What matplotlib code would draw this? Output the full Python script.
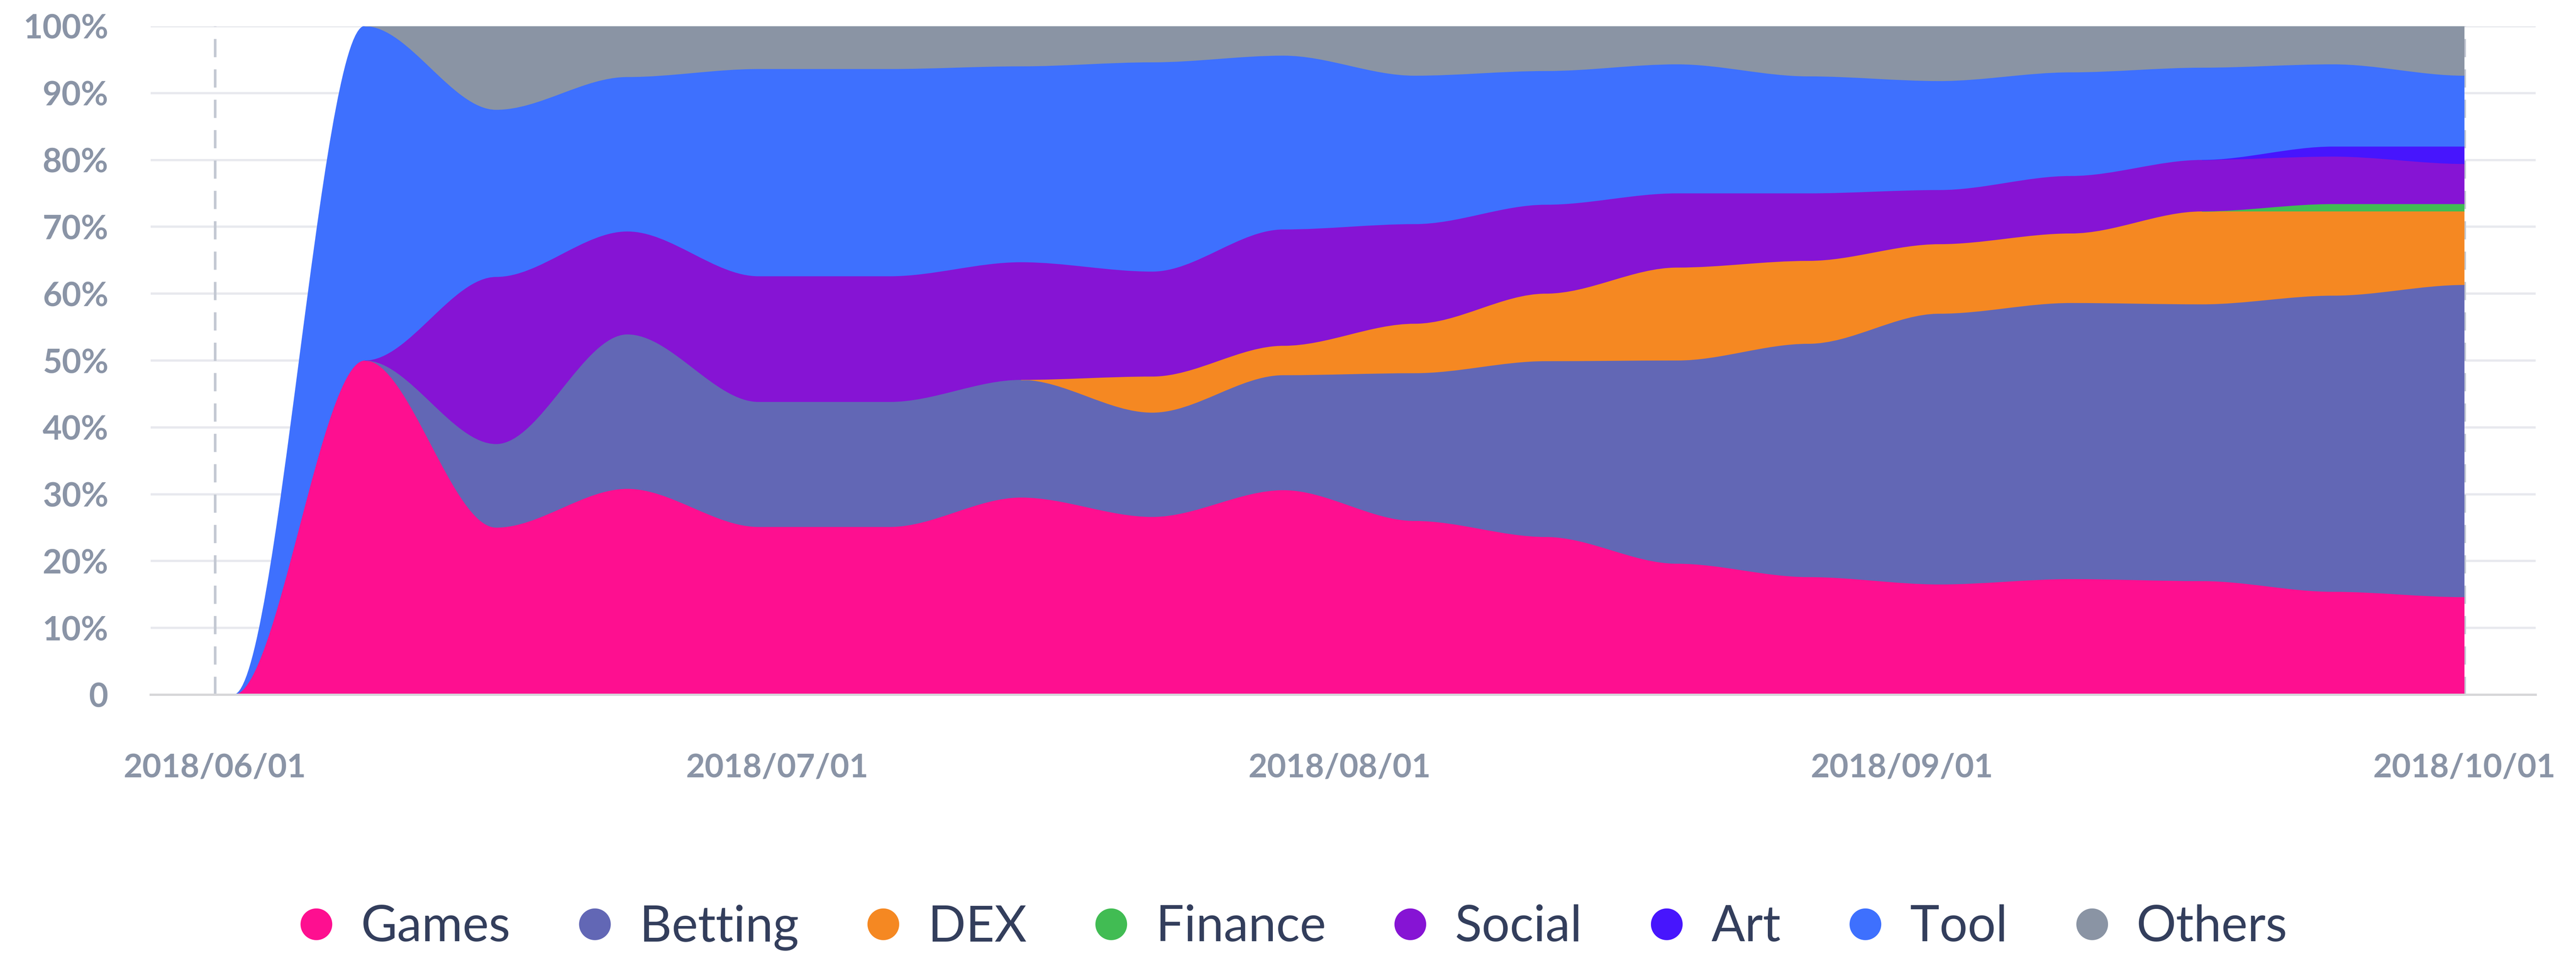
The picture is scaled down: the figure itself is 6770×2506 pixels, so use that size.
import numpy as np
import pandas as pd
import matplotlib
matplotlib.use('Agg')
import matplotlib.pyplot as plt
from matplotlib.path import Path
from matplotlib.patches import PathPatch
from matplotlib.lines import Line2D

# weekly share of each category (%)
dates = ['2018-06-02', '2018-06-09', '2018-06-16', '2018-06-23', '2018-06-30', '2018-07-07',
         '2018-07-14', '2018-07-21', '2018-07-28', '2018-08-04', '2018-08-11', '2018-08-18',
         '2018-08-25', '2018-09-01', '2018-09-08', '2018-09-15', '2018-09-22', '2018-09-29']
games   = [0, 50, 25, 30.8, 25.1, 25.1, 29.5, 26.6, 30.6, 26.0, 23.6, 19.6, 17.6, 16.5, 17.3, 17.0, 15.4, 14.6]
betting = [0, 0, 12.5, 23.1, 18.7, 18.7, 17.6, 15.6, 17.2, 22.1, 26.3, 30.4, 34.9, 40.5, 41.3, 41.4, 44.3, 46.7]
dex     = [0, 0, 0, 0, 0, 0, 0, 5.4, 4.4, 7.4, 10.1, 13.9, 12.4, 10.4, 10.4, 13.9, 12.6, 11.0]
finance = [0, 0, 0, 0, 0, 0, 0, 0, 0, 0, 0, 0, 0, 0, 0, 0, 1.1, 1.1]
social  = [0, 0, 25, 15.4, 18.8, 18.8, 17.6, 15.7, 17.4, 14.9, 13.3, 11.1, 10.1, 8.1, 8.6, 7.7, 7.1, 6.0]
art     = [0, 0, 0, 0, 0, 0, 0, 0, 0, 0, 0, 0, 0, 0, 0, 0, 1.5, 2.6]
tool    = [0, 50, 25, 23.1, 31.0, 31.0, 29.3, 31.3, 26.0, 22.2, 20.0, 19.3, 17.5, 16.3, 15.5, 13.8, 12.3, 10.6]
others  = [0, 0, 12.5, 7.6, 6.4, 6.4, 6.0, 5.4, 4.4, 7.4, 6.7, 5.7, 7.5, 8.2, 6.9, 6.2, 5.7, 7.4]

names = ['Games', 'Betting', 'DEX', 'Finance', 'Social', 'Art', 'Tool', 'Others']
colors = ['#fe0f90', '#6267b5', '#f58822', '#41bc53', '#8614d4', '#4715fd', '#3e70fe', '#8a94a4']
xlabels = ['2018/06/01', '2018/07/01', '2018/08/01', '2018/09/01', '2018/10/01']
ylabels = ['0', '10%', '20%', '30%', '40%', '50%', '60%', '70%', '80%', '90%', '100%']

plt.rcParams['font.family'] = ['Lato', 'DejaVu Sans']

series = [games, betting, dex, finance, social, art, tool, others]
x = np.array((pd.to_datetime(dates) - pd.Timestamp('2018-06-01')).days, dtype=float)
cum = np.cumsum(np.array(series, dtype=float), axis=0)


def curve(xs, ys):
    # bezier segments with flat tangents at each point (like echarts smooth)
    v = []
    for i in range(len(xs) - 1):
        d = xs[i + 1] - xs[i]
        v += [(xs[i] + d / 3, ys[i]), (xs[i + 1] - d / 3, ys[i + 1]), (xs[i + 1], ys[i + 1])]
    return v


W, H = 6770, 2506
fig = plt.figure(figsize=(W / 100, H / 100), dpi=100)
ax = fig.add_axes([396 / W, 1 - 1827 / H, (6664 - 396) / W, (1827 - 69) / H])

ticks = np.linspace(0, x[-1], 5)
for t in (ticks[0], ticks[-1]):
    ax.axvline(t, color='#c4c9d3', lw=5, dashes=(6.9, 4.6), zorder=0.8)

n = len(x)
for k in range(len(series)):
    top = cum[k]
    bot = cum[k - 1] if k > 0 else np.zeros(n)
    verts = [(x[0], top[0])] + curve(x, top) + [(x[-1], bot[-1])] + curve(x[::-1], bot[::-1]) + [(x[0], top[0])]
    codes = [Path.MOVETO] + [Path.CURVE4] * (3 * (n - 1)) + [Path.LINETO] + [Path.CURVE4] * (3 * (n - 1)) + [Path.CLOSEPOLY]
    ax.add_patch(PathPatch(Path(verts, codes), facecolor=colors[k], edgecolor='none', zorder=1 + k * 0.1))
    # top line, starting just before the series first shows up
    nz = np.nonzero(np.array(series[k]))[0]
    s = max(0, nz[0] - 1)
    lv = [(x[s], top[s])] + curve(x[s:], top[s:])
    lc = [Path.MOVETO] + [Path.CURVE4] * (3 * (n - 1 - s))
    ax.add_patch(PathPatch(Path(lv, lc), fill=False, edgecolor=colors[k], lw=1.5, zorder=1.05 + k * 0.1))

ax.set_xlim(-3.43, 123.8)
ax.set_ylim(0, 100)
ax.set_yticks(np.arange(0, 101, 10))
ax.set_yticklabels(ylabels)
ax.set_xticks(ticks)
ax.set_xticklabels(xlabels)
ax.yaxis.grid(True, color='#e8e9ee', lw=4.3)
ax.set_axisbelow(True)
for sp in ['top', 'right', 'left']:
    ax.spines[sp].set_visible(False)
ax.spines['bottom'].set_color('#d6d6d9')
ax.spines['bottom'].set_linewidth(4.3)
ax.tick_params(axis='y', length=0, pad=80, labelsize=63, labelcolor='#8a94a6')
ax.tick_params(axis='x', length=0, pad=110, labelsize=62, labelcolor='#8a94a6')
for lab in ax.get_xticklabels() + ax.get_yticklabels():
    lab.set_fontweight('bold')

handles = [Line2D([0], [0], marker='o', ls='none', markersize=60, markerfacecolor=c, markeredgewidth=0)
           for c in colors]
fig.legend(handles, names, loc='center', bbox_to_anchor=(0.502, 1 - 2439 / H), ncol=8, frameon=False,
           fontsize=94, labelcolor='#333e5c', handlelength=0.7, handletextpad=0.55, columnspacing=1.35)

fig.savefig('out.png', dpi=100, facecolor='white')
